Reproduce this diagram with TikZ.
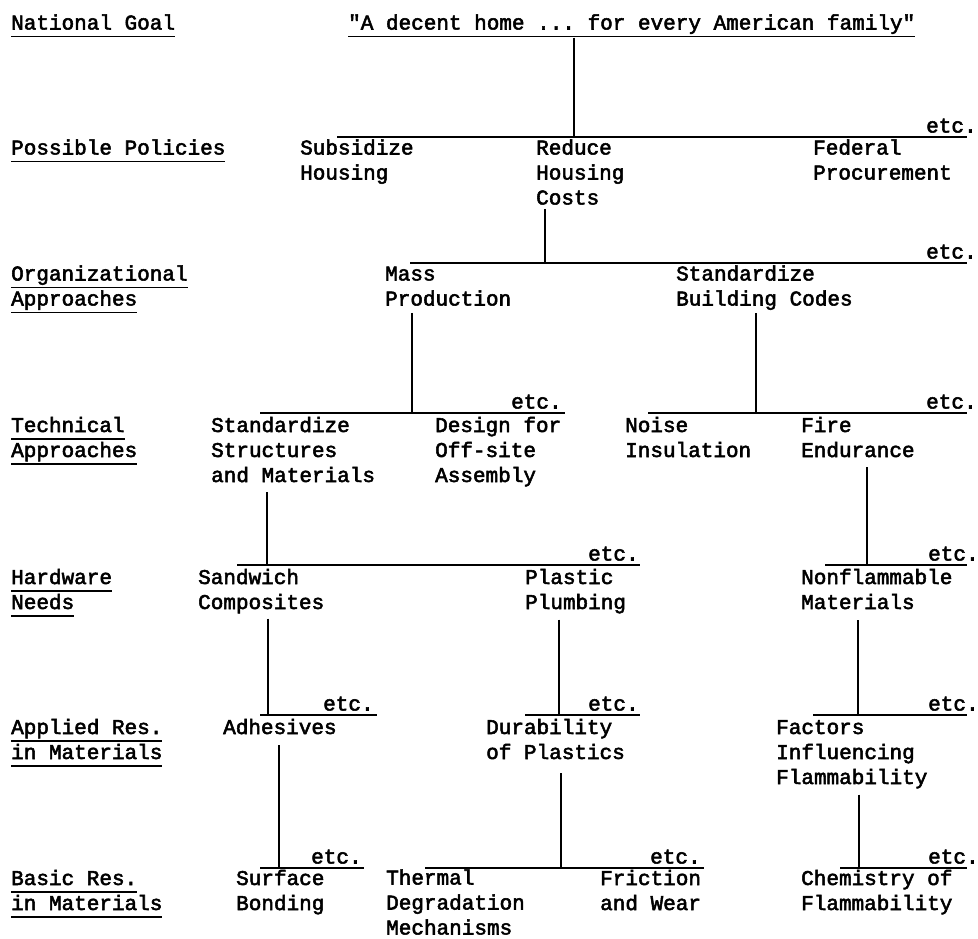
\documentclass[tikz,border=0pt]{standalone}
\usepackage{fontspec}
\setmonofont{Liberation Mono}[FakeBold=2.5]
\usetikzlibrary{calc}

% underline one line of a label at a fixed distance below its baseline
\newcommand\ulword[1]{\setbox0=\hbox{#1}\rlap{\rule[-7.8pt]{\wd0}{1.7pt}}\box0}

% nodes are placed by the baseline of their last line
\tikzset{
  tw/.style={font=\ttfamily\fontsize{21}{25}\selectfont, inner sep=0pt, anchor=base west, align=left},
  bar/.style={line width=1.7pt},
  link/.style={line width=1.5pt},
}

\begin{document}
\begin{tikzpicture}[x=1pt,y=-1pt]
\useasboundingbox[fill=white] (0,0) rectangle (978,938);

% ---- level labels ----
\node[tw] (lab1) at (11,29.5) {\ulword{National Goal}};
\node[tw] (lab2) at (11,154.5) {\ulword{Possible Policies}};
\node[tw] (lab3) at (11,305.5) {\ulword{Organizational}\\\ulword{Approaches}};
\node[tw] (lab4) at (11,457) {\ulword{Technical}\\\ulword{Approaches}};
\node[tw] (lab5) at (11,609) {\ulword{Hardware}\\\ulword{Needs}};
\node[tw] (lab6) at (11,759) {\ulword{Applied Res.}\\\ulword{in Materials}};
\node[tw] (lab7) at (11,910) {\ulword{Basic Res.}\\\ulword{in Materials}};

% ---- national goal ----
\node[tw] (goal) at (348,29.5) {\ulword{"A decent home ... for every American family"}};

% ---- possible policies ----
\node[tw] (subsidize) at (300,179.5) {Subsidize\\Housing};
\node[tw] (reduce) at (536,204.5) {Reduce\\Housing\\Costs};
\node[tw] (federal) at (813,179.5) {Federal\\Procurement};

% ---- organizational approaches ----
\node[tw] (mass) at (385,305.5) {Mass\\Production};
\node[tw] (codes) at (676,305.5) {Standardize\\Building Codes};

% ---- technical approaches ----
\node[tw] (structures) at (211,482) {Standardize\\Structures\\and Materials};
\node[tw] (design) at (435,482) {Design for\\Off-site\\Assembly};
\node[tw] (noise) at (625,457) {Noise\\Insulation};
\node[tw] (fire) at (801,457) {Fire\\Endurance};

% ---- hardware needs ----
\node[tw] (sandwich) at (198,609) {Sandwich\\Composites};
\node[tw] (plumbing) at (525,609) {Plastic\\Plumbing};
\node[tw] (nonflam) at (801,609) {Nonflammable\\Materials};

% ---- applied research ----
\node[tw] (adhesives) at (223,734) {Adhesives};
\node[tw] (durability) at (486,759) {Durability\\of Plastics};
\node[tw] (factors) at (776,784) {Factors\\Influencing\\Flammability};

% ---- basic research ----
\node[tw] (surface) at (236,910) {Surface\\Bonding};
\node[tw] (thermal) at (386,934.5) {Thermal\\Degradation\\Mechanisms};
\node[tw] (friction) at (600,910) {Friction\\and Wear};
\node[tw] (chemistry) at (801,910) {Chemistry of\\Flammability};

% ---- branch bars and their drop points ----
\coordinate (b2w) at (337,137);  \coordinate (b2e) at (967,137);  \coordinate (d1) at (574,137);
\coordinate (b3w) at (410,263);  \coordinate (b3e) at (967,263);  \coordinate (d2) at (545,263);
\coordinate (b4aw) at (260,413); \coordinate (b4ae) at (565,413); \coordinate (d3a) at (412,413);
\coordinate (b4bw) at (648,413); \coordinate (b4be) at (967,413); \coordinate (d3b) at (756,413);
\coordinate (b5aw) at (237,565); \coordinate (b5ae) at (640,565); \coordinate (d4a) at (267,565);
\coordinate (b5bw) at (825,565); \coordinate (b5be) at (967,565); \coordinate (d4b) at (867,565);
\coordinate (b6aw) at (260,715); \coordinate (b6ae) at (377,715); \coordinate (d5a) at (268,715);
\coordinate (b6bw) at (525,715); \coordinate (b6be) at (640,715); \coordinate (d5b) at (559,715);
\coordinate (b6cw) at (813,715); \coordinate (b6ce) at (967,715); \coordinate (d5c) at (858,715);
\coordinate (b7aw) at (260,868); \coordinate (b7ae) at (364,868); \coordinate (d6a) at (279,868);
\coordinate (b7bw) at (425,868); \coordinate (b7be) at (704,868); \coordinate (d6b) at (561,868);
\coordinate (b7cw) at (840,868); \coordinate (b7ce) at (967,868); \coordinate (d6c) at (859,868);

\foreach \b in {b2,b3,b4a,b4b,b5a,b5b,b6a,b6b,b6c,b7a,b7b,b7c}
  \draw[bar] (\b w) -- (\b e);

% ---- "etc." marks over the bar ends ----
\node[tw] (etc2) at (926,132.5) {etc.};
\node[tw] (etc3) at (926,258.5) {etc.};
\node[tw] (etc4a) at (511,408.5) {etc.};
\node[tw] (etc4b) at (926,408.5) {etc.};
\node[tw] (etc5a) at (588,560.5) {etc.};
\node[tw] (etc5b) at (928,560.5) {etc.};
\node[tw] (etc6a) at (323,710.5) {etc.};
\node[tw] (etc6b) at (588,710.5) {etc.};
\node[tw] (etc6c) at (928,710.5) {etc.};
\node[tw] (etc7a) at (311,863.5) {etc.};
\node[tw] (etc7b) at (650,863.5) {etc.};
\node[tw] (etc7c) at (928,863.5) {etc.};

% ---- vertical links from each chosen item down to its bar ----
\draw[link] (goal.south -| d1) -- (d1);
\draw[link, shorten <=4pt] (reduce.south -| d2) -- (d2);
\draw[link, shorten <=7pt] (mass.south -| d3a) -- (d3a);
\draw[link, shorten <=3pt] (codes.south -| d3b) -- (d3b);
\draw[link, shorten <=10pt] (structures.south -| d4a) -- (d4a);
\draw[link, shorten <=10pt] (fire.south -| d4b) -- (d4b);
\draw[link, shorten <=5pt] (sandwich.south -| d5a) -- (d5a);
\draw[link, shorten <=6pt] (plumbing.south -| d5b) -- (d5b);
\draw[link, shorten <=11pt] (nonflam.south -| d5c) -- (d5c);
\draw[link, shorten <=11pt] (adhesives.south -| d6a) -- (d6a);
\draw[link, shorten <=14pt] (durability.south -| d6b) -- (d6b);
\draw[link, shorten <=6pt] (factors.south -| d6c) -- (d6c);
\end{tikzpicture}
\end{document}
